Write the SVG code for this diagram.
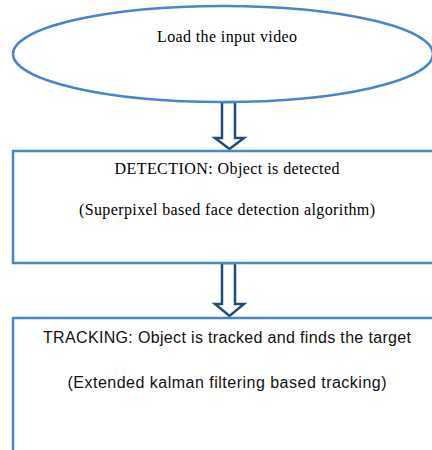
<svg xmlns="http://www.w3.org/2000/svg" width="432" height="450" viewBox="0 0 432 450">
<style>
.box{fill:#fff;stroke:#4a84cc;stroke-width:2.5}
.arr{fill:#fff;stroke:#1f4e79;stroke-width:2.5;stroke-linejoin:miter}
.t{font-family:"Liberation Serif",serif;font-size:16px;fill:#000;text-anchor:middle}
.c{font-family:"Liberation Sans",sans-serif;font-size:16px;fill:#111;text-anchor:middle}
</style>
<rect width="432" height="450" fill="#fff"/>
<g id="connectors">
<polygon class="arr" points="222,102 235,102 235,138 244,138 229.5,149 215,138 222,138"/>
<polygon class="arr" points="222,263 235,263 235,304 244,304 229.5,316 215,304 222,304"/>
</g>
<g id="load">
<ellipse class="box" cx="223" cy="54" rx="210" ry="48"/>
<text class="t" x="227" y="42" textLength="140">Load the input video</text>
</g>
<g id="detection">
<rect class="box" x="13" y="151" width="430" height="112"/>
<text class="t" x="227" y="174" textLength="225">DETECTION: Object is detected</text>
<text class="t" x="227" y="215" textLength="296">(Superpixel based face detection algorithm)</text>
</g>
<g id="tracking">
<rect class="box" x="13" y="318" width="430" height="140"/>
<text class="c" x="227" y="343" textLength="368">TRACKING: Object is tracked and finds the target</text>
<text class="c" x="227" y="388" textLength="319">(Extended kalman filtering based tracking)</text>
</g>
</svg>
